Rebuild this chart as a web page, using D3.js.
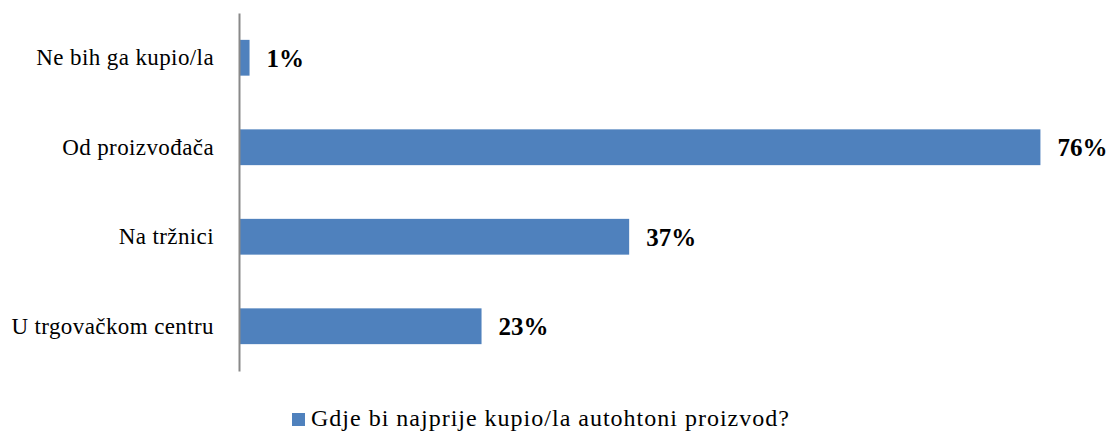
<!DOCTYPE html>
<html><head><meta charset="utf-8">
<script src="https://cdn.jsdelivr.net/npm/d3@7"></script>
<style>body{margin:0;background:#fff}svg{display:block}</style>
</head><body>
<svg id="c" width="1111" height="435"></svg>
<script>
const categories = ["Ne bih ga kupio/la","Od proizvođača","Na tržnici","U trgovačkom centru"];
const values = [0.01, 0.76, 0.37, 0.23];
const valueLabels = ["1%","76%","37%","23%"];
const seriesName = "Gdje bi najprije kupio/la autohtoni proizvod?";

const FONT = '"Liberation Serif"';
const svg = d3.select("#c");
const x = d3.scaleLinear().domain([0, 0.8]).range([239, 239 + 80*10.545]);
const y = d3.scaleBand().domain(categories).range([13, 371]).paddingInner(0.6).paddingOuter(0.3);
const color = "#4F81BD";

svg.selectAll("rect.bar").data(values).enter().append("rect")
  .attr("class","bar")
  .attr("x", x(0))
  .attr("y", (d,i)=>y(categories[i]))
  .attr("width", d=>x(d)-x(0))
  .attr("height", y.bandwidth())
  .attr("fill", color);

const yAxis = svg.append("g").attr("transform","translate(239,0)")
  .call(d3.axisLeft(y).tickSize(0).tickPadding(25));
yAxis.attr("font-family", null).attr("font-size", null);
yAxis.select(".domain").attr("stroke","#898989").attr("stroke-width",2);
yAxis.selectAll("text")
  .style("font-family", FONT).style("font-size","23px").style("letter-spacing","0.4px")
  .attr("fill","#000").attr("dy","0.33em");

svg.selectAll("text.val").data(values).enter().append("text")
  .attr("class","val")
  .attr("x", d=>x(d)+17)
  .attr("y", (d,i)=>y(categories[i])+y.bandwidth()/2)
  .attr("dy","0.35em")
  .style("font-family", FONT).style("font-weight","bold").style("font-size","25px")
  .text((d,i)=>valueLabels[i]);

const lg = svg.append("g");
lg.append("rect").attr("x",292).attr("y",413).attr("width",13).attr("height",13).attr("fill",color);
lg.append("text").attr("x",311).attr("y",426)
  .style("font-family", FONT).style("font-size","24px").style("letter-spacing","1px")
  .text(seriesName);
</script>
</body></html>
